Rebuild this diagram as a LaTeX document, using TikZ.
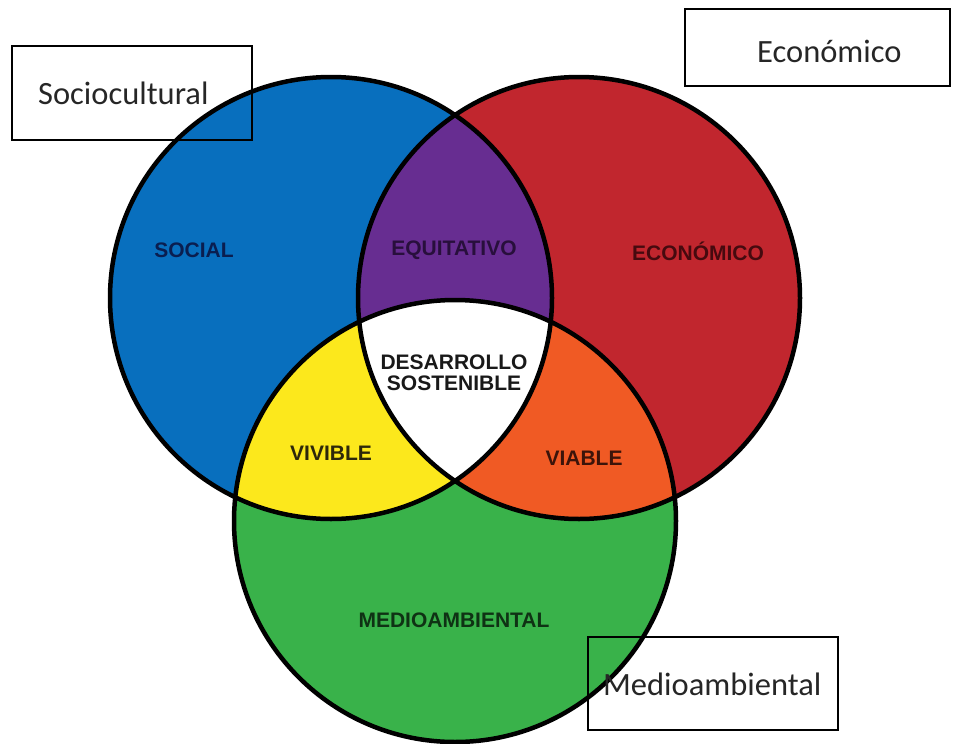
\documentclass[tikz,border=0pt]{standalone}
\usepackage{fontspec}
\setmainfont{Carlito}
\newfontfamily\vennfont{Liberation Sans}
\definecolor{cblue}{RGB}{8,111,190}
\definecolor{cred}{RGB}{193,38,46}
\definecolor{cpurple}{RGB}{103,45,145}
\definecolor{cyellow}{RGB}{252,232,28}
\definecolor{corange}{RGB}{240,90,36}
\definecolor{cgreen}{RGB}{57,178,74}
\definecolor{tblue}{RGB}{10,30,80}
\definecolor{tpurple}{RGB}{40,15,60}
\definecolor{tred}{RGB}{70,10,15}
\definecolor{tyellow}{RGB}{45,40,10}
\definecolor{torange}{RGB}{60,20,10}
\definecolor{tgreen}{RGB}{15,50,20}
\tikzset{
  lab/.style={font=\vennfont\bfseries\fontsize{21}{23}\selectfont, inner sep=0pt, align=center},
  tagtext/.style={inner sep=0pt, font=\fontsize{32.5}{34}\selectfont, text=black!85, anchor=base west},
  ring/.style={draw=black, line width=4.5pt}
}
\begin{document}
\begin{tikzpicture}[x=1pt,y=-1pt]
\useasboundingbox (0,0) rectangle (953,744);
\def\R{221}
\coordinate (cb) at (331,298);
\coordinate (cr) at (579,298);
\coordinate (cg) at (455,521);
% base fills
\fill[cblue] (cb) circle (\R);
\fill[cred] (cr) circle (\R);
\fill[cgreen] (cg) circle (\R);
% pairwise intersections
\begin{scope}
  \clip (cb) circle (\R);
  \fill[cpurple] (cr) circle (\R);
  \fill[cyellow] (cg) circle (\R);
\end{scope}
\begin{scope}
  \clip (cr) circle (\R);
  \fill[corange] (cg) circle (\R);
\end{scope}
\begin{scope}
  \clip (cb) circle (\R);
  \clip (cr) circle (\R);
  \fill[white] (cg) circle (\R);
\end{scope}
% outlines
\draw[ring] (cb) circle (\R);
\draw[ring] (cr) circle (\R);
\draw[ring] (cg) circle (\R);
% labels
\node[lab, text=tblue] (social) at (194,250) {SOCIAL};
\node[lab, text=tpurple] (equi) at (454,250) {EQUITATIVO};
\node[lab, text=tred] (econ) at (698,251) {ECONÓMICO};
\node[lab, text=black!90] (ds) at (454,373) {DESARROLLO\\[-2pt]SOSTENIBLE};
\node[lab, text=tyellow] (vivible) at (331,453) {VIVIBLE};
\node[lab, text=torange] (viable) at (584,458) {VIABLE};
\node[lab, text=tgreen] (medio) at (454,620) {MEDIOAMBIENTAL};
% boxes
\draw[line width=2pt] (12,46) rectangle (252,140);
\node[tagtext] (socio) at (38,104) {Sociocultural};
\draw[line width=2pt] (685,9) rectangle (950,86);
\node[tagtext] (econbox) at (757,62) {Económico};
\draw[line width=2pt] (588,637) rectangle (838,730);
\node[tagtext] (mediobox) at (603,695) {Medioambiental};
\end{tikzpicture}
\end{document}
